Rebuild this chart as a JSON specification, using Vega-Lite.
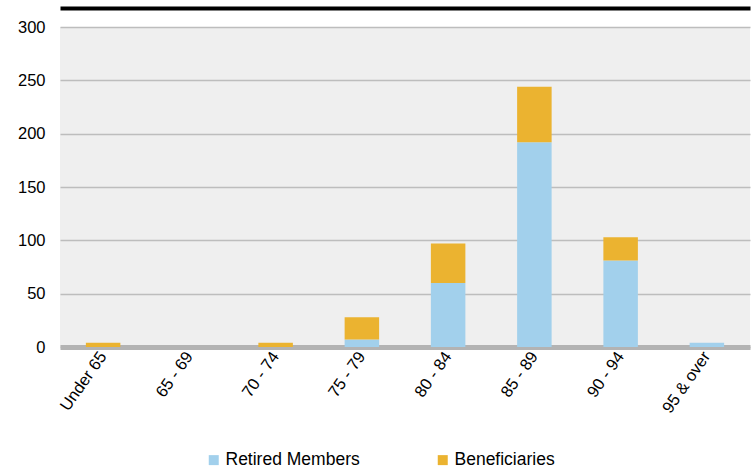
{
  "$schema": "https://vega.github.io/schema/vega-lite/v6.json",
  "width": 690,
  "height": 320,
  "autosize": {"type": "none"},
  "padding": {"left": 60, "top": 27, "right": 2, "bottom": 124},
  "background": "white",
  "config": {
    "view": {"fill": "#efefef", "stroke": null},
    "font": "Liberation Sans"
  },
  "data": {
    "values": [
      {"age": "Under 65", "group": "Retired Members", "count": 0},
      {"age": "Under 65", "group": "Beneficiaries", "count": 4},
      {"age": "65 - 69", "group": "Retired Members", "count": 0},
      {"age": "65 - 69", "group": "Beneficiaries", "count": 0},
      {"age": "70 - 74", "group": "Retired Members", "count": 0},
      {"age": "70 - 74", "group": "Beneficiaries", "count": 4},
      {"age": "75 - 79", "group": "Retired Members", "count": 7},
      {"age": "75 - 79", "group": "Beneficiaries", "count": 21},
      {"age": "80 - 84", "group": "Retired Members", "count": 60},
      {"age": "80 - 84", "group": "Beneficiaries", "count": 37},
      {"age": "85 - 89", "group": "Retired Members", "count": 192},
      {"age": "85 - 89", "group": "Beneficiaries", "count": 52},
      {"age": "90 - 94", "group": "Retired Members", "count": 81},
      {"age": "90 - 94", "group": "Beneficiaries", "count": 22},
      {"age": "95 & over", "group": "Retired Members", "count": 4},
      {"age": "95 & over", "group": "Beneficiaries", "count": 0}
    ]
  },
  "layer": [
    {
      "mark": {"type": "bar"},
      "encoding": {
        "x": {
          "field": "age",
          "type": "nominal",
          "sort": ["Under 65", "65 - 69", "70 - 74", "75 - 79", "80 - 84", "85 - 89", "90 - 94", "95 & over"],
          "scale": {"paddingInner": 0.6, "paddingOuter": 0.3},
          "axis": {
            "title": null,
            "domainColor": "#b3b3b3",
            "domainWidth": 5,
            "ticks": false,
            "grid": false,
            "labelAngle": -55,
            "labelFontSize": 16.5,
            "labelColor": "#000000",
            "labelPadding": 6
          }
        },
        "y": {
          "field": "count",
          "type": "quantitative",
          "stack": "zero",
          "scale": {"domain": [0, 300]},
          "axis": {
            "title": null,
            "values": [0, 50, 100, 150, 200, 250, 300],
            "domain": false,
            "ticks": false,
            "grid": true,
            "gridColor": "#bdbdbd",
            "gridWidth": 1.5,
            "labelFontSize": 16.5,
            "labelColor": "#000000",
            "labelPadding": 15
          }
        },
        "color": {
          "field": "group",
          "type": "nominal",
          "scale": {
            "domain": ["Retired Members", "Beneficiaries"],
            "range": ["#a2d0ec", "#ebb330"]
          },
          "legend": {
            "title": null,
            "orient": "none",
            "direction": "horizontal",
            "legendX": 145,
            "legendY": 424,
            "symbolType": "square",
            "symbolSize": 100,
            "symbolStrokeWidth": 0,
            "symbolOpacity": 1,
            "labelFontSize": 17.5,
            "labelColor": "#000000",
            "labelOffset": 3,
            "columnPadding": 74
          }
        },
        "order": {"field": "group", "sort": "descending"}
      }
    },
    {
      "mark": {"type": "bar", "opacity": 0},
      "encoding": {
        "x": {
          "field": "age",
          "type": "nominal",
          "sort": ["Under 65", "65 - 69", "70 - 74", "75 - 79", "80 - 84", "85 - 89", "90 - 94", "95 & over"],
          "axis": {
            "orient": "top",
            "title": null,
            "labels": false,
            "ticks": false,
            "grid": false,
            "domainColor": "#000000",
            "domainWidth": 4,
            "offset": 19
          }
        }
      }
    }
  ],
  "resolve": {"axis": {"x": "independent"}}
}
